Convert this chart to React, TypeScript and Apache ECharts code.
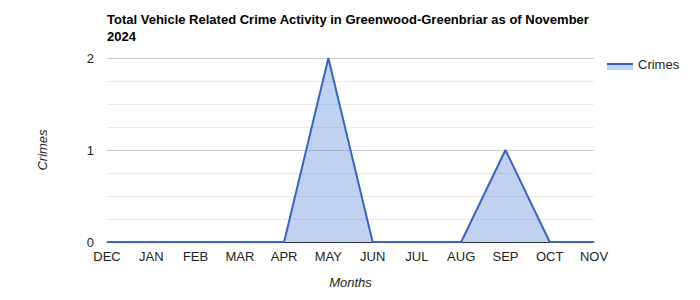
import React, { useEffect, useRef } from "react";
import * as echarts from "echarts";

const months = ["DEC", "JAN", "FEB", "MAR", "APR", "MAY", "JUN", "JUL", "AUG", "SEP", "OCT", "NOV"];
const crimes = [0, 0, 0, 0, 0, 2, 0, 0, 0, 1, 0, 0];
const titleText = "Total Vehicle Related Crime Activity in Greenwood-Greenbriar as of November 2024";
const seriesName = "Crimes";

const FONT = "Arial, 'Liberation Sans', sans-serif";

export default function App() {
  const ref = useRef<HTMLDivElement>(null);
  useEffect(() => {
    if (!ref.current) return;
    const chart = echarts.init(ref.current, undefined, { renderer: "svg" });
    chart.setOption({
      animation: false,
      backgroundColor: "#ffffff",
      textStyle: { fontFamily: FONT },
      title: {
        text: titleText,
        left: 102,
        top: 6,
        textStyle: {
          fontFamily: FONT,
          fontSize: 13,
          fontWeight: "bold",
          color: "#000000",
          width: 490,
          overflow: "break",
          lineHeight: 17,
        },
      },
      legend: {
        data: [seriesName],
        left: 607,
        top: 56,
        padding: 0,
        icon: "path://M0,0H26V0.01H0Z M0,9H26V14H0Z M0,16H26V16.01H0Z",
        itemWidth: 26,
        itemHeight: 16,
        itemGap: 5,
        itemStyle: { color: "#c2d1f0", borderWidth: 0 },
        lineStyle: { width: 0 },
        textStyle: { fontFamily: FONT, fontSize: 13, color: "#222222" },
      },
      graphic: [
        {
          type: "line",
          shape: { x1: 607, y1: 64, x2: 633, y2: 64 },
          style: { stroke: "#3366cc", lineWidth: 2 },
          z: 100,
        },
      ],
      grid: { left: 107, right: 106, top: 58, bottom: 58 },
      xAxis: {
        type: "category",
        data: months,
        boundaryGap: false,
        name: "Months",
        nameLocation: "middle",
        nameGap: 34,
        nameTextStyle: { fontFamily: FONT, fontSize: 13, fontStyle: "italic", color: "#222222" },
        axisLine: { show: true, lineStyle: { color: "#333333", width: 1 } },
        axisTick: { show: false },
        axisLabel: { fontFamily: FONT, fontSize: 13, color: "#222222", margin: 8, interval: 0 },
        splitLine: { show: false },
      },
      yAxis: {
        type: "value",
        min: 0,
        max: 2,
        interval: 1,
        name: "Crimes",
        nameLocation: "middle",
        nameGap: 58,
        nameRotate: 90,
        nameTextStyle: { fontFamily: FONT, fontSize: 13, fontStyle: "italic", color: "#222222" },
        axisLine: { show: false },
        axisTick: { show: false },
        axisLabel: { fontFamily: FONT, fontSize: 13, color: "#222222", margin: 13 },
        splitLine: { show: true, lineStyle: { color: "#cccccc", width: 1 } },
        minorTick: { show: false, splitNumber: 4 },
        minorSplitLine: { show: true, lineStyle: { color: "#ebebeb", width: 1 } },
      },
      series: [
        {
          name: seriesName,
          type: "line",
          data: crimes,
          showSymbol: false,
          symbol: "none",
          lineStyle: { color: "#3366cc", width: 2 },
          itemStyle: { color: "#3366cc" },
          areaStyle: { color: "#3366cc", opacity: 0.3 },
          z: 3,
        },
      ],
    });
    return () => chart.dispose();
  }, []);
  return (
    <div
      ref={ref}
      style={{ position: "fixed", left: 0, top: 0, width: 700, height: 300, background: "#fff" }}
    />
  );
}
